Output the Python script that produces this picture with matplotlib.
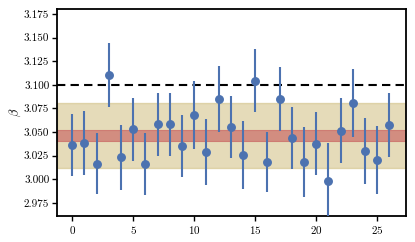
import matplotlib
matplotlib.use("Agg")
import matplotlib.pyplot as plt
import numpy as np

plt.rcParams.update({
    "font.family": "serif",
    "font.serif": ["cmr10", "DejaVu Serif"],
    "mathtext.fontset": "cm",
    "axes.formatter.use_mathtext": True,
    "font.size": 8,
})

index = list(range(27))
beta = [3.0364, 3.0385, 3.0166, 3.1108, 3.0230, 3.0530, 3.0163, 3.0580, 3.0580,
        3.0350, 3.0678, 3.0286, 3.0854, 3.0554, 3.0258, 3.1044, 3.0180, 3.0850,
        3.0440, 3.0184, 3.0378, 2.9983, 3.0515, 3.0805, 3.0303, 3.0205, 3.0575]
beta_err = [0.033, 0.034, 0.032, 0.034, 0.034, 0.0335, 0.033, 0.033, 0.033,
            0.0325, 0.036, 0.035, 0.035, 0.033, 0.036, 0.033, 0.032, 0.034,
            0.033, 0.037, 0.033, 0.040, 0.034, 0.036, 0.035, 0.036, 0.034]
wide_band = [3.0117, 3.0805]
narrow_band = [3.0406, 3.0520]
reference = 3.100
yticks = [2.975, 3.000, 3.025, 3.050, 3.075, 3.100, 3.125, 3.150, 3.175]
xticks = [0, 5, 10, 15, 20, 25]

fig = plt.figure(figsize=(4.15, 2.42), dpi=100)
ax = fig.add_axes([0.1373, 0.1074, 0.8407, 0.8554])

ax.axhspan(wide_band[0], wide_band[1], color="#CCB974", alpha=0.5, lw=1, zorder=1)
ax.axhspan(narrow_band[0], narrow_band[1], color="#C44E52", alpha=0.55, lw=0.8, zorder=2)
ax.axhline(reference, color="black", ls="--", lw=1.5, dashes=(4, 2.5), zorder=3)
ax.errorbar(index, beta, yerr=beta_err, fmt="o", color="#4C72B0", ms=5.4,
            elinewidth=1.5, capsize=0, zorder=4)

ax.set_xlim(-1.25, 27.35)
ax.set_ylim(2.961, 3.1803)
ax.set_yticks(yticks)
ax.set_yticklabels([f"{t:.3f}" for t in yticks])
ax.set_xticks(xticks)
ax.set_ylabel(r"$\beta$", fontsize=9, labelpad=1)
for s in ax.spines.values():
    s.set_linewidth(1.3)
ax.tick_params(direction="out", length=3.5, width=1, labelsize=8, pad=2)

fig.savefig("out.png", dpi=100)
